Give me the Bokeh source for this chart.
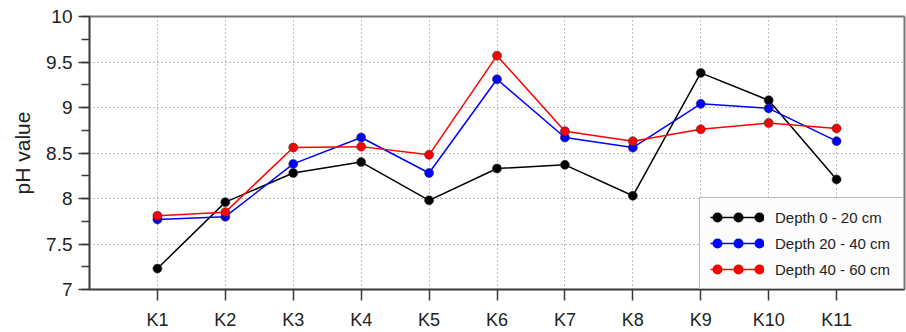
from bokeh.plotting import figure
from bokeh.models import (FactorRange, Range1d, SingleIntervalTicker,
                          NumeralTickFormatter, Legend, LegendItem)
from bokeh.embed import file_html
from bokeh.resources import INLINE

# Sampling sites and soil pH at three depths
sites = ["K1", "K2", "K3", "K4", "K5", "K6", "K7", "K8", "K9", "K10", "K11"]
ph_0_20 = [7.23, 7.96, 8.28, 8.40, 7.98, 8.33, 8.37, 8.03, 9.38, 9.08, 8.21]
ph_20_40 = [7.77, 7.80, 8.38, 8.67, 8.28, 9.31, 8.67, 8.56, 9.04, 8.99, 8.63]
ph_40_60 = [7.81, 7.85, 8.56, 8.57, 8.48, 9.57, 8.74, 8.63, 8.76, 8.83, 8.77]

series_values = [ph_0_20, ph_20_40, ph_40_60]
series_labels = ["Depth 0 - 20 cm", "Depth 20 - 40 cm", "Depth 40 - 60 cm"]
series_colors = ["#000000", "#0000ff", "#ff0000"]

FONT = "Liberation Sans"
INK = "#222222"
AXIS = "#3a3a3a"

p = figure(
    width=906, height=332,
    x_range=FactorRange(factors=sites, range_padding=0.5, range_padding_units="absolute"),
    y_range=Range1d(7, 10),
    output_backend="svg", toolbar_location=None,
    min_border_left=89, min_border_right=2, min_border_top=16, min_border_bottom=43,
    background_fill_color="white", border_fill_color="white",
)

# Frame and grid
p.outline_line_color = "#777777"
p.outline_line_width = 2
for g in (p.xgrid, p.ygrid):
    g.grid_line_color = "#7a7a7a"
    g.grid_line_dash = "1 3"
    g.grid_line_width = 1

# Axes
p.yaxis.ticker = SingleIntervalTicker(interval=0.5, num_minor_ticks=2)
p.yaxis.formatter = NumeralTickFormatter(format="0.[0]")
p.yaxis.axis_label = "pH value"
p.yaxis.axis_label_text_font = FONT
p.yaxis.axis_label_text_font_size = "21px"
p.yaxis.axis_label_text_font_style = "normal"
p.yaxis.axis_label_text_color = INK
p.yaxis.axis_label_standoff = 9
p.yaxis.minor_tick_out = 8
p.yaxis.minor_tick_in = 0
p.yaxis.minor_tick_line_color = AXIS
p.yaxis.minor_tick_line_width = 1.5
p.yaxis.major_label_standoff = 6
p.yaxis.major_label_text_font_size = "19px"

p.xaxis.major_label_standoff = 9
p.xaxis.major_label_text_font_size = "18px"

for ax in (p.xaxis, p.yaxis):
    ax.axis_line_color = AXIS
    ax.axis_line_width = 1.5
    ax.major_tick_line_color = AXIS
    ax.major_tick_line_width = 1.5
    ax.major_tick_out = 11
    ax.major_tick_in = 0
    ax.major_label_text_font = FONT
    ax.major_label_text_color = INK

# Series: line, markers, and a dotted key used only for the legend swatch
items = []
for vals, lab, col in zip(series_values, series_labels, series_colors):
    line_r = p.line(sites, vals, line_color=col, line_width=1.5)
    p.scatter(sites, vals, size=9, fill_color=col, line_color="#333333", line_width=0.6)
    key_r = p.line(sites, vals, line_color=col, line_width=10, line_cap="round",
                   line_dash="0 21", line_dash_offset=14, visible=False)
    items.append(LegendItem(label=lab, renderers=[line_r, key_r]))

legend = Legend(
    items=items, location="bottom_right", margin=0, padding=10,
    glyph_width=54, glyph_height=18, label_height=18, label_width=118,
    label_standoff=11, spacing=8,
    border_line_color="#7a7a7a", border_line_width=1.5,
    background_fill_color="#fcfcfc", background_fill_alpha=1,
    label_text_font=FONT, label_text_font_size="15px", label_text_color=INK,
)
p.add_layout(legend)

open("out.html", "w").write(file_html(p, INLINE))
